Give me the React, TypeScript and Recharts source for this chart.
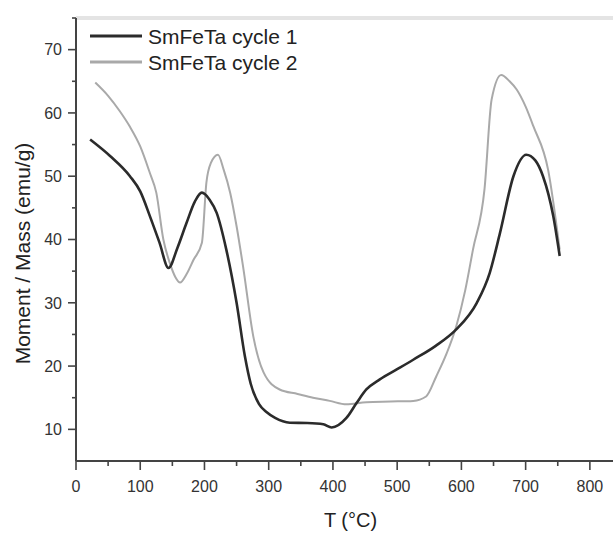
import React from 'react';
import { LineChart, Line, XAxis, YAxis, ReferenceLine } from 'recharts';

// temperature (°C) and moment/mass (emu/g)
const cycle1T = [22, 53, 84, 100, 115, 130, 144, 158, 172, 185, 196, 208, 219, 234, 250, 263, 272, 285, 297, 310, 333, 360, 385, 398, 421, 437, 452, 473, 500, 525, 560, 592, 624, 644, 660, 681, 701, 715, 727, 743, 753];
const cycle1M = [55.8, 53.2, 50, 47.6, 43.7, 39.5, 35.5, 38.7, 42.6, 46, 47.4, 46.3, 44.2, 38.4, 30, 21.5, 17.2, 14, 12.7, 11.8, 11.05, 11, 10.8, 10.3, 11.8, 14.2, 16.3, 17.9, 19.5, 21, 23.2, 25.8, 30, 34.7, 41, 50, 53.4, 52.5, 50, 43.7, 37.4];

const cycle2T = [30, 50, 68, 84, 100, 115, 125, 136, 146, 155, 162, 172, 183, 196, 203, 210, 221, 230, 240, 250, 260, 276, 292, 317, 345, 369, 395, 421, 452, 490, 525, 545, 561, 577, 592, 606, 618, 636, 647, 662, 675, 686, 700, 712, 735, 753];
const cycle2M = [64.8, 62.7, 60.3, 57.8, 54.7, 50.5, 47.4, 40, 36.3, 34, 33.2, 34.5, 36.8, 39.5, 49, 52.1, 53.4, 51, 47.4, 42.1, 35.8, 24.7, 19, 16.3, 15.6, 15, 14.5, 13.95, 14.3, 14.4, 14.5, 15.2, 18.4, 22, 26.3, 32, 38.4, 48, 62.1, 66, 65, 63.7, 61, 57.9, 51, 38.4];

const xTicks = [0, 50, 100, 150, 200, 250, 300, 350, 400, 450, 500, 550, 600, 650, 700, 750, 800];
const yTicks = [10, 15, 20, 25, 30, 35, 40, 45, 50, 55, 60, 65, 70, 75];

const cycle1 = cycle1T.map((t, i) => ({ t, m: cycle1M[i] }));
const cycle2 = cycle2T.map((t, i) => ({ t, m: cycle2M[i] }));

const font = '"Liberation Sans", Arial, sans-serif';
const axisColor = '#444';

const XTick = ({ x, y, payload }: any) => {
  const major = payload.value % 100 === 0;
  return (
    <g>
      <line x1={x} x2={x} y1={y} y2={y + (major ? 9 : 5)} stroke={axisColor} strokeWidth={1.6} />
      {major && (
        <text x={x} y={y + 31} textAnchor="middle" fontSize={16} fill="#333" fontFamily={font}>
          {payload.value}
        </text>
      )}
    </g>
  );
};

const YTick = ({ x, y, payload }: any) => {
  const major = payload.value % 10 === 0 && payload.value < 75;
  return (
    <g>
      <line x1={x - (major ? 8 : 4)} x2={x} y1={y} y2={y} stroke={axisColor} strokeWidth={1.6} />
      {major && (
        <text x={x - 14} y={y} dy="0.36em" textAnchor="end" fontSize={16} fill="#333" fontFamily={font}>
          {payload.value}
        </text>
      )}
    </g>
  );
};

const YLabel = ({ viewBox }: any) => {
  const cx = viewBox.x + 23;
  const cy = viewBox.y + viewBox.height / 2 + 14;
  return (
    <text x={cx} y={cy} transform={`rotate(-90, ${cx}, ${cy})`} textAnchor="middle" dy="0.35em" fontSize={21} fill="#222" fontFamily={font}>
      Moment / Mass (emu/g)
    </text>
  );
};

const XLabel = ({ viewBox }: any) => (
  <text x={viewBox.x + viewBox.width / 2 + 6} y={viewBox.y + 66} textAnchor="middle" fontSize={20} fill="#222" fontFamily={font}>
    T (°C)
  </text>
);

export default function App() {
  return (
    <div style={{ position: 'absolute', left: 0, top: 0, width: 613, height: 534, background: '#fff' }}>
      <LineChart width={613} height={534} margin={{ top: 18, right: 0, left: 0, bottom: 0 }}>
        <XAxis
          type="number"
          dataKey="t"
          domain={[0, 836]}
          ticks={xTicks}
          interval={0}
          height={73}
          tickSize={0}
          tickMargin={0}
          tick={<XTick />}
          tickLine={false}
          axisLine={{ stroke: axisColor, strokeWidth: 2 }}
          label={<XLabel />}
          allowDataOverflow
        />
        <YAxis
          type="number"
          dataKey="m"
          domain={[5, 75]}
          ticks={yTicks}
          interval={0}
          width={76}
          tickSize={0}
          tickMargin={0}
          tick={<YTick />}
          tickLine={false}
          axisLine={{ stroke: axisColor, strokeWidth: 2 }}
          label={<YLabel />}
          allowDataOverflow
        />
        <ReferenceLine y={75} stroke="#e4e4e4" strokeWidth={4} ifOverflow="visible" />
        <Line data={cycle2} dataKey="m" type="monotone" stroke="#a9a9a9" strokeWidth={2} dot={false} isAnimationActive={false} />
        <Line data={cycle1} dataKey="m" type="monotone" stroke="#2b2b2b" strokeWidth={2.6} dot={false} isAnimationActive={false} />
      </LineChart>
      <svg width={613} height={90} style={{ position: 'absolute', left: 0, top: 0, pointerEvents: 'none' }}>
        <line x1={90} x2={142} y1={36} y2={36} stroke="#2b2b2b" strokeWidth={3} />
        <text x={148} y={44} fontSize={21} fill="#222" fontFamily={font}>SmFeTa cycle 1</text>
        <line x1={90} x2={142} y1={62} y2={62} stroke="#a9a9a9" strokeWidth={3} />
        <text x={148} y={70} fontSize={21} fill="#222" fontFamily={font}>SmFeTa cycle 2</text>
      </svg>
    </div>
  );
}
